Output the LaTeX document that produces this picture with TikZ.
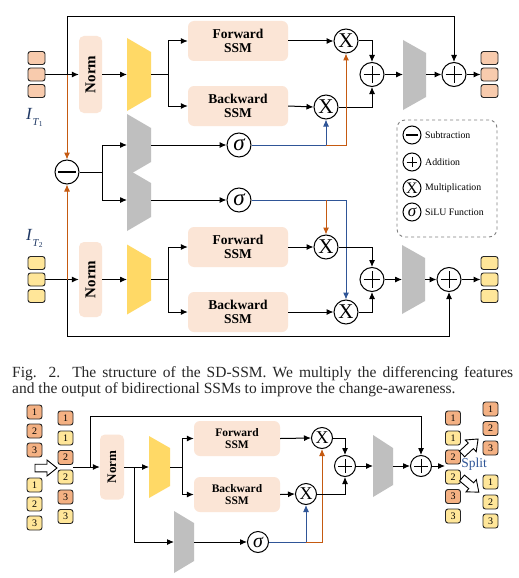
\documentclass[tikz,border=0pt]{standalone}
\usepackage{fontspec}
\setmainfont{Liberation Serif}
\usetikzlibrary{arrows.meta,calc}
\definecolor{tokpeach}{HTML}{F8CBAD}
\definecolor{tokorange}{HTML}{F4B183}
\definecolor{tokyellow}{HTML}{FFE699}
\definecolor{boxfill}{HTML}{FBE5D6}
\definecolor{trapyellow}{HTML}{FFD966}
\definecolor{trapgray}{HTML}{BFBFBF}
\definecolor{lineorange}{HTML}{C55A11}
\definecolor{lineblue}{HTML}{2F5597}
\definecolor{labelblue}{HTML}{1F3864}
\newcommand{\fsz}[1]{\fontsize{#1}{#1}\selectfont}
\tikzset{
  tok/.style={draw=black!85, line width=0.9pt, rounded corners=2.5pt, minimum width=17pt, minimum height=13pt, inner sep=0pt, fill=#1},
  btok/.style={draw=black!85, line width=0.9pt, rounded corners=2.5pt, minimum width=15pt, minimum height=14pt, inner sep=0pt, fill=#1, font=\fsz{10}},
  ssmbox/.style={fill=boxfill, rounded corners=6pt, minimum width=#1, align=center, inner sep=0pt},
  normbox/.style={fill=boxfill, rounded corners=5pt, minimum width=23pt, minimum height=#1, inner sep=0pt},
  opc/.style={circle, draw=black, line width=1pt, fill=white, minimum size=#1, inner sep=0pt},
  plusop/.style={opc=#1, path picture={\draw[line width=0.9pt]
     ([xshift=3.6pt]path picture bounding box.west) -- ([xshift=-3.6pt]path picture bounding box.east)
     ([yshift=-3.6pt]path picture bounding box.north) -- ([yshift=3.6pt]path picture bounding box.south);}},
  minusop/.style={opc=#1, path picture={\draw[line width=1.8pt]
     ([xshift=3.4pt]path picture bounding box.west) -- ([xshift=-3.4pt]path picture bounding box.east);}},
  conn/.style={line width=1pt, -{Latex[length=7pt,width=6pt]}},
  wire/.style={line width=1pt},
  bw/.style={line width=1pt, draw=lineblue},
  oconn/.style={conn, draw=lineorange},
  bconn/.style={conn, draw=lineblue},
  hollow/.pic={\draw[fill=white, line width=0.9pt] (0,-3.8) -- (12,-3.8) -- (12,-8) -- (22,0) -- (12,8) -- (12,3.8) -- (0,3.8) -- cycle;},
}
\begin{document}
\begin{tikzpicture}[x=1pt,y=-1pt]
\useasboundingbox (0,0) rectangle (519,578);
\fill[white] (0,0) rectangle (519,578);

%================ TOP DIAGRAM =================
\node[tok=tokpeach] (t1a) at (36.5,58) {};
\node[tok=tokpeach] (t1b) at (36.5,74.5) {};
\node[tok=tokpeach] (t1c) at (36.5,91) {};
\node[text=labelblue, anchor=base west, inner sep=0pt] (lt1) at (26,119) {\fsz{17}\textit{I}\raisebox{-6pt}{\fsz{10.5}\textit{T}\raisebox{-1.5pt}{\fsz{7.5}1}}};

\node[normbox=77pt] (norm1) at (90.5,74.5) {\rotatebox{90}{\fsz{15}\bfseries Norm}};
\fill[trapyellow] (127,38) -- (151,52) -- (151,97) -- (127,111) -- cycle;
\coordinate (y1in) at (127,74.5); \coordinate (y1out) at (151,74.5);

\node[ssmbox=100pt, minimum height=40pt, font=\fsz{13.5}\bfseries] (fwd1) at (238,41) {Forward\\[1pt]SSM};
\node[ssmbox=100pt, minimum height=40pt, font=\fsz{13.5}\bfseries] (bwd1) at (238,106) {Backward\\[1pt]SSM};

\node[opc=24pt, font=\fsz{21}] (xf1) at (346,41) {X};
\node[opc=24pt, font=\fsz{21}] (xb1) at (326,107) {X};
\node[plusop=24pt] (pa1) at (372,74.5) {};
\fill[trapgray] (403,40) -- (426,53) -- (426,97) -- (403,110) -- cycle;
\coordinate (g1in) at (403,74.5); \coordinate (g1out) at (426,74.5);
\node[plusop=24pt] (pb1) at (454,74.5) {};
\node[tok=tokpeach] (o1a) at (489.5,58) {};
\node[tok=tokpeach] (o1b) at (489.5,74.5) {};
\node[tok=tokpeach] (o1c) at (489.5,91) {};

\coordinate (j1) at (67,74.5);
\coordinate (top1) at (67,17);
\draw[conn] (t1b.east) -- (norm1.west);
\draw[conn] (j1) -- (top1) -| (pb1.north);
\draw[conn] (norm1.east) -- (y1in);
\draw[wire] (y1out) -- (168,74.5) coordinate (b1);
\draw[conn] (b1) |- (fwd1.west);
\draw[conn] (b1) |- (bwd1.west);
\draw[conn] (fwd1.east) -- (xf1.west);
\draw[conn] (bwd1.east) -- (xb1.west);
\draw[conn] (xf1.east) -| (pa1.north);
\draw[conn] (xb1.east) -| (pa1.south);
\draw[conn] (pa1.east) -- (g1in);
\draw[conn] (g1out) -- (pb1.west);
\draw[conn] (pb1.east) -- (o1b.west);

% difference branch
\node[minusop=24pt] (mn) at (67,172) {};
\draw[oconn] (j1) -- (mn.north);
\fill[trapgray] (127,114) -- (151,128) -- (151,162) -- (127,176) -- cycle;
\fill[trapgray] (127,169) -- (151,183) -- (151,217) -- (127,231) -- cycle;
\coordinate (g2in) at (127,145); \coordinate (g2out) at (151,145);
\coordinate (g3in) at (127,200); \coordinate (g3out) at (151,200);
\node[opc=24pt, font=\fsz{23}\itshape] (s1) at (239,145) {σ};
\node[opc=24pt, font=\fsz{23}\itshape] (s2) at (239,200) {σ};
\draw[wire] (mn.east) -- (102,172) coordinate (b2);
\draw[conn] (b2) |- (g2in);
\draw[conn] (b2) |- (g3in);
\draw[conn] (g2out) -- (s1.west);
\draw[conn] (g3out) -- (s2.west);
\draw[bw] (s1.east) -- (326,145) coordinate (c1);
\draw[oconn] (c1) -- (346,145) -- (xf1.south);
\draw[bconn] (c1) -- (xb1.south);

% T2 section
\node[tok=tokyellow] (t2a) at (36.5,263) {};
\node[tok=tokyellow] (t2b) at (36.5,279.5) {};
\node[tok=tokyellow] (t2c) at (36.5,296) {};
\node[text=labelblue, anchor=base west, inner sep=0pt] (lt2) at (26,240) {\fsz{17}\textit{I}\raisebox{-6pt}{\fsz{10.5}\textit{T}\raisebox{-1.5pt}{\fsz{7.5}2}}};
\node[normbox=75pt] (norm2) at (90.5,279.5) {\rotatebox{90}{\fsz{15}\bfseries Norm}};
\fill[trapyellow] (127,244.5) -- (151,258.5) -- (151,300.5) -- (127,314.5) -- cycle;
\coordinate (y2in) at (127,279.5); \coordinate (y2out) at (151,279.5);
\node[ssmbox=100pt, minimum height=40pt, font=\fsz{13.5}\bfseries] (fwd2) at (238,247) {Forward\\[1pt]SSM};
\node[ssmbox=100pt, minimum height=40pt, font=\fsz{13.5}\bfseries] (bwd2) at (238,312) {Backward\\[1pt]SSM};
\node[opc=24pt, font=\fsz{21}] (xf2) at (326,247) {X};
\node[opc=24pt, font=\fsz{21}] (xb2) at (346,312) {X};
\node[plusop=24pt] (pa2) at (372,279.5) {};
\fill[trapgray] (402,245) -- (425,258) -- (425,301) -- (402,314) -- cycle;
\coordinate (g4in) at (402,279.5); \coordinate (g4out) at (425,279.5);
\node[plusop=24pt] (pb2) at (449,279.5) {};
\node[tok=tokyellow] (o2a) at (489.5,263) {};
\node[tok=tokyellow] (o2b) at (489.5,279.5) {};
\node[tok=tokyellow] (o2c) at (489.5,296) {};

\draw[bw] (s2.east) -- (326,200) coordinate (c2);
\draw[bconn] (c2) -- (346,200) -- (xb2.north);
\draw[oconn] (c2) -- (xf2.north);

\coordinate (j2) at (67,279.5);
\coordinate (bot2) at (67,336);
\draw[conn] (t2b.east) -- (norm2.west);
\draw[oconn] (j2) -- (mn.south);
\draw[conn] (j2) -- (bot2) -| (pb2.south);
\draw[conn] (norm2.east) -- (y2in);
\draw[wire] (y2out) -- (168,279.5) coordinate (b3);
\draw[conn] (b3) |- (fwd2.west);
\draw[conn] (b3) |- (bwd2.west);
\draw[conn] (fwd2.east) -- (xf2.west);
\draw[conn] (bwd2.east) -- (xb2.west);
\draw[conn] (xf2.east) -| (pa2.north);
\draw[conn] (xb2.east) -| (pa2.south);
\draw[conn] (pa2.east) -- (g4in);
\draw[conn] (g4out) -- (pb2.west);
\draw[conn] (pb2.east) -- (o2b.west);

% legend
\node[draw=black!50, dashed, rounded corners=8pt, line width=0.9pt, minimum width=100pt, minimum height=117pt, inner sep=0pt] (leg) at (447,178.5) {};
\node[minusop=18pt] (lgm) at (412,135) {};
\node[plusop=18pt] (lgp) at (412,162) {};
\node[opc=18pt, font=\fsz{16}] (lgx) at (412,188) {X};
\node[opc=18pt, font=\fsz{17}\itshape] (lgs) at (412,212) {σ};
\node[anchor=west, inner sep=0pt, font=\fsz{9.8}] (lgmt) at (425,135) {Subtraction};
\node[anchor=west, inner sep=0pt, font=\fsz{9.8}] (lgpt) at (425,162) {Addition};
\node[anchor=west, inner sep=0pt, font=\fsz{9.8}] (lgxt) at (425,188) {Multiplication};
\node[anchor=west, inner sep=0pt, font=\fsz{9.8}] (lgst) at (425,212) {SiLU Function};

%================ CAPTION =================
\node[anchor=base west, inner sep=0pt, font=\fsz{15.5}, text=black!85] (cap1) at (12,377) {\makebox[501pt][s]{Fig. 2.\ \ The structure of the SD-SSM. We multiply the differencing features}};
\node[anchor=base west, inner sep=0pt, font=\fsz{15.5}, text=black!85] (cap2) at (12,393) {and the output of bidirectional SSMs to improve the change-awareness.};

%================ BOTTOM DIAGRAM =================
\node[btok=tokorange] (a1) at (34.5,412) {1};
\node[btok=tokorange] (a2) at (34.5,431) {2};
\node[btok=tokorange] (a3) at (34.5,450) {3};
\node[btok=tokyellow] (a4) at (34.5,485) {1};
\node[btok=tokyellow] (a5) at (34.5,504) {2};
\node[btok=tokyellow] (a6) at (34.5,523) {3};
\pic at (35,468) {hollow};
\node[btok=tokorange] (m1) at (65.5,418) {1};
\node[btok=tokyellow] (m2) at (65.5,438) {1};
\node[btok=tokorange] (m3) at (65.5,457.5) {2};
\node[btok=tokyellow] (m4) at (65.5,477) {2};
\node[btok=tokorange] (m5) at (65.5,497) {3};
\node[btok=tokyellow] (m6) at (65.5,516.5) {3};
\coordinate (mout) at (73,467);

\node[normbox=65pt, minimum width=24pt] (norm3) at (112,467) {\rotatebox{90}{\fsz{13}\bfseries Norm}};
\fill[trapyellow] (149,436) -- (170,448) -- (170,486) -- (149,498) -- cycle;
\coordinate (y3in) at (149,467); \coordinate (y3out) at (170,467);
\node[ssmbox=86pt, minimum height=35pt, font=\fsz{11.5}\bfseries] (fwd3) at (237,438.5) {Forward\\SSM};
\node[ssmbox=86pt, minimum height=35pt, font=\fsz{11.5}\bfseries] (bwd3) at (237,494.5) {Backward\\SSM};
\fill[trapgray] (174,511) -- (194,523) -- (194,561) -- (174,573) -- cycle;
\coordinate (g5in) at (174,542); \coordinate (g5out) at (194,542);
\node[opc=21pt, font=\fsz{20}\itshape] (s3) at (258,542) {σ};
\node[opc=21pt, font=\fsz{18}] (xf3) at (322,438) {X};
\node[opc=21pt, font=\fsz{18}] (xb3) at (306,494) {X};
\node[plusop=21pt] (pa3) at (345,466) {};
\fill[trapgray] (373,435) -- (393,448) -- (393,485) -- (373,497) -- cycle;
\coordinate (g6in) at (373,466); \coordinate (g6out) at (393,466);
\node[plusop=21pt] (pc3) at (421,466) {};
\node[btok=tokorange] (n1) at (453,418) {1};
\node[btok=tokyellow] (n2) at (453,438) {1};
\node[btok=tokorange] (n3) at (453,457) {2};
\node[btok=tokyellow] (n4) at (453,477) {2};
\node[btok=tokorange] (n5) at (453,496.5) {3};
\node[btok=tokyellow] (n6) at (453,516) {3};
\coordinate (nin) at (445,466);
\pic[rotate=43] at (462,454) {hollow};
\pic[rotate=-40] at (462,478) {hollow};
\node[font=\fsz{13.5}, text=lineblue, inner sep=0pt] (split) at (474,464) {Split};
\node[btok=tokorange] (r1) at (490.5,409) {1};
\node[btok=tokorange] (r2) at (490.5,428.5) {2};
\node[btok=tokorange] (r3) at (490.5,448) {3};
\node[btok=tokyellow] (r4) at (490.5,482) {1};
\node[btok=tokyellow] (r5) at (490.5,502) {2};
\node[btok=tokyellow] (r6) at (490.5,521) {3};

\coordinate (j3) at (90,467);
\coordinate (top3) at (90,416);
\coordinate (j4) at (134,467);
\draw[conn] (mout) -- (norm3.west);
\draw[conn] (j3) -- (top3) -| (pc3.north);
\draw[conn] (norm3.east) -- (y3in);
\draw[conn] (j4) |- (g5in);
\draw[wire] (y3out) -- (182,467) coordinate (b5);
\draw[conn] (b5) |- (fwd3.west);
\draw[conn] (b5) |- (bwd3.west);
\draw[conn] (fwd3.east) -- (xf3.west);
\draw[conn] (bwd3.east) -- (xb3.west);
\draw[conn] (g5out) -- (s3.west);
\draw[bw] (s3.east) -- (306,542) coordinate (c3);
\draw[oconn] (c3) -- (322,542) -- (xf3.south);
\draw[bconn] (c3) -- (xb3.south);
\draw[conn] (xf3.east) -| (pa3.north);
\draw[conn] (xb3.east) -| (pa3.south);
\draw[conn] (pa3.east) -- (g6in);
\draw[conn] (g6out) -- (pc3.west);
\draw[conn] (pc3.east) -- (nin);
\end{tikzpicture}
\end{document}
